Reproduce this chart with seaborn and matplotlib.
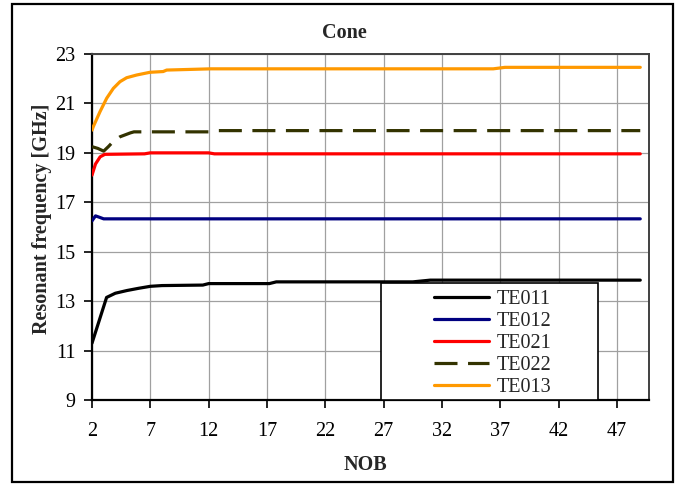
import numpy as np
import pandas as pd
import matplotlib
matplotlib.use("Agg")
import matplotlib.pyplot as plt
from matplotlib.patches import Rectangle
import seaborn as sns

# ---- data ----
te011_x = [2, 3.25, 4, 5, 6, 7, 8, 11.5, 12, 17.2, 17.8, 29.5, 31, 49]
te011_y = [11.3, 13.15, 13.32, 13.43, 13.52, 13.6, 13.63, 13.65, 13.71, 13.71, 13.78, 13.78, 13.85, 13.85]

te012_x = [2, 2.3, 2.6, 3, 49]
te012_y = [16.25, 16.45, 16.4, 16.33, 16.33]

te021_x = [2, 2.3, 2.7, 3.1, 6.5, 7, 12, 12.5, 49]
te021_y = [18.1, 18.55, 18.84, 18.94, 18.96, 19.0, 19.0, 18.96, 18.96]

te022_x = [2, 2.5, 3.0, 3.4, 3.8, 4.4, 5.3, 5.6, 12, 12.5, 49]
te022_y = [19.25, 19.18, 19.07, 19.25, 19.45, 19.65, 19.81, 19.85, 19.85, 19.9, 19.9]

te013_x = [2, 2.11, 2.69, 3.26, 3.83, 4.4, 4.97, 5.83, 6.97, 8.1, 8.4, 12.2, 36.4, 37.4, 49]
te013_y = [19.92, 20.06, 20.67, 21.21, 21.61, 21.88, 22.04, 22.15, 22.26, 22.29, 22.35, 22.4, 22.4, 22.46, 22.46]

modes = ["TE011", "TE012", "TE021", "TE022", "TE013"]
colors = ["#000000", "#000080", "#FF0000", "#333300", "#FF9900"]
x_ticks = [2, 7, 12, 17, 22, 27, 32, 37, 42, 47]
y_ticks = [9, 11, 13, 15, 17, 19, 21, 23]

series = {
    "TE011": (te011_x, te011_y),
    "TE012": (te012_x, te012_y),
    "TE021": (te021_x, te021_y),
    "TE022": (te022_x, te022_y),
    "TE013": (te013_x, te013_y),
}
df = pd.concat(
    [pd.DataFrame({"NOB": xs, "freq": ys, "mode": m}) for m, (xs, ys) in series.items()],
    ignore_index=True,
)

# ---- figure ----
sns.set_style("white")
plt.rcParams["font.family"] = ["Liberation Serif", "DejaVu Serif"]

W, H = 679, 487
fig = plt.figure(figsize=(W / 100, H / 100), dpi=100)
ax = fig.add_axes([92 / W, 1 - 400 / H, (649 - 92) / W, (400 - 54) / H])

palette = dict(zip(modes, colors))
dashes = {m: "" for m in modes}
dashes["TE022"] = (7.2, 3.3)

sns.lineplot(data=df, x="NOB", y="freq", hue="mode", style="mode",
             hue_order=modes, style_order=modes, palette=palette,
             dashes=dashes, linewidth=2.3, ax=ax, legend=True, zorder=3)

ax.set_xlim(2, 49.75)
ax.set_ylim(9, 23)
ax.set_xticks(x_ticks)
ax.set_yticks(y_ticks)
ax.set_xlabel("")
ax.set_ylabel("")
ax.grid(True, color="#a0a0a0", linewidth=0.9, zorder=0)
ax.set_axisbelow(True)

for side in ["left", "bottom"]:
    ax.spines[side].set_color("black")
    ax.spines[side].set_linewidth(1.6)
for side in ["top", "right"]:
    ax.spines[side].set_color("#404040")
    ax.spines[side].set_linewidth(1.4)

ax.tick_params(axis="both", which="major", direction="out", length=6, width=1.2,
               colors="black", labelsize=14.5)
ax.tick_params(axis="x", pad=10, bottom=True)
ax.tick_params(axis="y", pad=6, left=True)

# legend box
handles, labels = ax.get_legend_handles_labels()
ax.get_legend().remove()
box = Rectangle((381 / W, 1 - 400 / H), (598 - 381) / W, (400 - 283) / H,
                transform=fig.transFigure, facecolor="white", edgecolor="black",
                linewidth=1.2, zorder=4, clip_on=False)
ax.add_patch(box)
leg = ax.legend(handles, labels, loc="center", bbox_to_anchor=(493 / W, 1 - 343.5 / H),
                bbox_transform=fig.transFigure, frameon=False, fontsize=14.5,
                handlelength=2.7, handletextpad=0.4, labelspacing=0.14,
                borderpad=0.0)
leg.set_zorder(5)
for line in leg.get_lines():
    line.set_linewidth(2.3)

# texts
fig.text(344 / W, 1 - 33 / H, "Cone", ha="center", va="center",
         fontsize=14.5, fontweight="bold")
fig.text(365 / W, 1 - 465 / H, "NOB", ha="center", va="center",
         fontsize=14.5, fontweight="bold")
fig.text(42 / W, 1 - 219 / H, "Resonant frequency [GHz]", ha="center", va="center",
         rotation=90, fontsize=14.5, fontweight="bold")

# outer frame
fig.patches.append(Rectangle((12 / W, 1 - 482 / H), (673 - 12) / W, (482 - 4) / H,
                             transform=fig.transFigure, fill=False,
                             edgecolor="black", linewidth=1.6))

fig.savefig("out.png", dpi=100)
